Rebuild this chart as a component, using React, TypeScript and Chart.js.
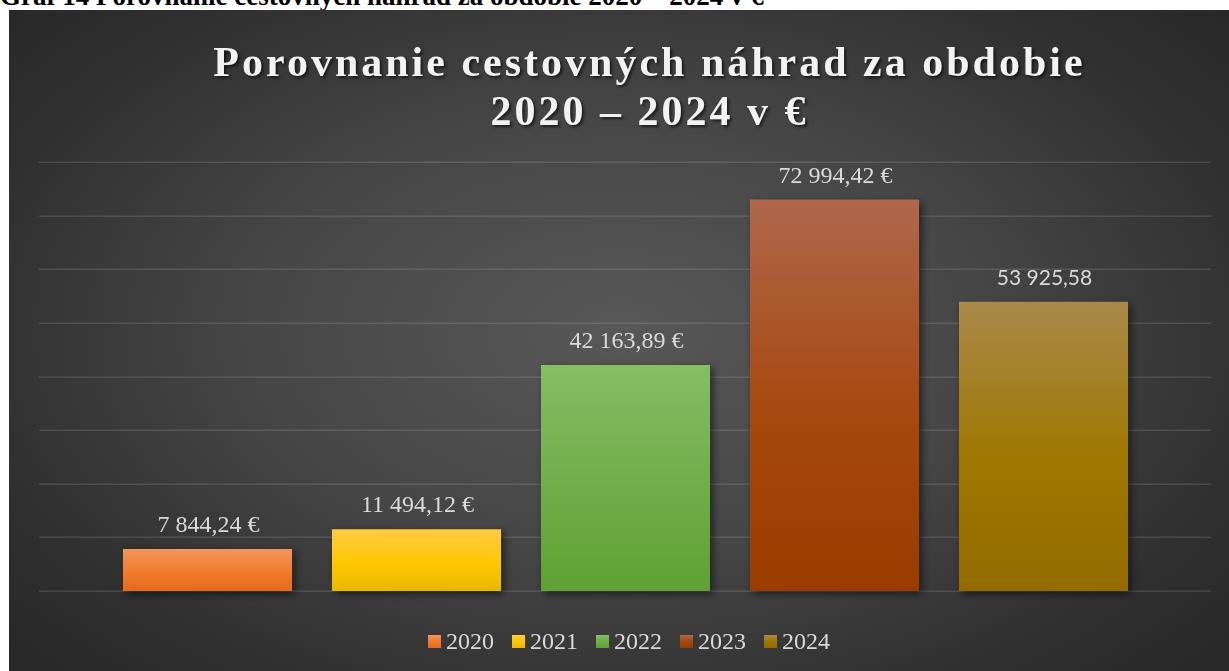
import React, { useEffect, useRef } from "react";
import { Chart, registerables } from "chart.js";

Chart.register(...registerables);

// ---- data ----
const CATEGORIES = ["2020", "2021", "2022", "2023", "2024"];
const VALUES = [7844.24, 11494.12, 42163.89, 72994.42, 53925.58];
const VALUE_LABELS = ["7 844,24 €", "11 494,12 €", "42 163,89 €", "72 994,42 €", "53 925,58"];
const Y_MIN = 0;
const Y_MAX = 80000;
const Y_STEP = 10000;
const TITLE_LINES = ["Porovnanie cestovných náhrad za obdobie", "2020 – 2024 v €"];
const CAPTION = "Graf 14 Porovnanie cestovných náhrad za obdobie 2020 – 2024 v €";

// ---- styles ----
const COLOR_TOP = ["#F2955F", "#FFCB45", "#86BD66", "#B0674C", "#A9894A"];
const COLOR_MID = ["#F07B2C", "#FFC600", "#70AD47", "#A6490F", "#A07700"];
const COLOR_BOT = ["#E56A1A", "#E8B800", "#5FA134", "#9A3C00", "#946B00"];
const LABEL_SANS = [false, false, false, false, true];

const W = 1220;
const H = 661;

export default function App() {
  const ref = useRef<HTMLCanvasElement | null>(null);

  useEffect(() => {
    const canvas = ref.current;
    if (!canvas) return;

    const bgPlugin = {
      id: "bgPlugin",
      beforeDraw(chart: any) {
        const ctx = chart.ctx;
        ctx.save();
        const cx = 610, cy = 320;
        ctx.translate(cx, cy);
        ctx.scale(1, 0.6);
        const g = ctx.createRadialGradient(0, 0, 0, 0, 0, 820);
        g.addColorStop(0, "#585858");
        g.addColorStop(0.45, "#464646");
        g.addColorStop(0.8, "#303030");
        g.addColorStop(1, "#282828");
        ctx.fillStyle = g;
        ctx.fillRect(-cx - 10, -cy / 0.6 - 10, W + 20, H / 0.6 + 20);
        ctx.restore();
      },
      beforeDatasetsDraw(chart: any) {
        const ctx = chart.ctx;
        const y = chart.scales.y;
        ctx.save();
        ctx.strokeStyle = "rgba(255,255,255,0.12)";
        ctx.lineWidth = 1.5;
        for (let v = Y_MIN; v <= Y_MAX; v += Y_STEP) {
          const py = Math.round(y.getPixelForValue(v)) + 0.25;
          ctx.beginPath();
          ctx.moveTo(30, py);
          ctx.lineTo(1202, py);
          ctx.stroke();
        }
        ctx.restore();
        ctx.save();
        ctx.shadowColor = "rgba(0,0,0,0.55)";
        ctx.shadowBlur = 8;
        ctx.shadowOffsetX = 3;
        ctx.shadowOffsetY = 3;
      },
      afterDatasetsDraw(chart: any) {
        const ctx = chart.ctx;
        ctx.restore();
        const meta = chart.getDatasetMeta(0);
        ctx.save();
        ctx.fillStyle = "#d9d9d9";
        ctx.textAlign = "center";
        ctx.textBaseline = "alphabetic";
        meta.data.forEach((bar: any, i: number) => {
          ctx.font = LABEL_SANS[i] ? '21px Lato' : '24px "Liberation Serif"';
          ctx.fillText(VALUE_LABELS[i], bar.x + 1, bar.y - 17);
        });
        ctx.restore();

        // title
        ctx.save();
        ctx.font = 'bold 42px "Liberation Serif"';
        (ctx as any).letterSpacing = "3px";
        ctx.fillStyle = "#f2f2f2";
        ctx.textAlign = "center";
        ctx.textBaseline = "alphabetic";
        ctx.shadowColor = "rgba(0,0,0,0.6)";
        ctx.shadowBlur = 3;
        ctx.shadowOffsetX = 2;
        ctx.shadowOffsetY = 2;
        ctx.fillText(TITLE_LINES[0], 640.5, 66);
        ctx.fillText(TITLE_LINES[1], 640.5, 115);
        ctx.restore();

        // legend
        ctx.save();
        ctx.font = '24px "Liberation Serif"';
        ctx.textAlign = "left";
        ctx.textBaseline = "alphabetic";
        const box = 13, gapBT = 5, gapItem = 18;
        const widths = CATEGORIES.map((c) => box + gapBT + ctx.measureText(c).width);
        const total = widths.reduce((a, b) => a + b, 0) + gapItem * (CATEGORIES.length - 1);
        let x = 620 - total / 2;
        CATEGORIES.forEach((c, i) => {
          const g = ctx.createLinearGradient(0, 625, 0, 638);
          g.addColorStop(0, COLOR_TOP[i]);
          g.addColorStop(0.5, COLOR_MID[i]);
          g.addColorStop(1, COLOR_BOT[i]);
          ctx.fillStyle = g;
          ctx.fillRect(x, 625, box, box);
          ctx.fillStyle = "#d9d9d9";
          ctx.fillText(c, x + box + gapBT, 639);
          x += widths[i] + gapItem;
        });
        ctx.restore();
      },
    };

    const chart = new Chart(canvas, {
      type: "bar",
      data: {
        labels: CATEGORIES,
        datasets: [
          {
            label: "Cestovné náhrady",
            data: VALUES,
            clip: false as any,
            categoryPercentage: 1,
            barPercentage: 0.809,
            borderWidth: 0,
            backgroundColor: (c: any) => {
              const chart = c.chart;
              if (!chart.chartArea || c.type !== "data") return COLOR_MID[c.dataIndex ?? 0];
              const ys = chart.scales.y;
              const top = ys.getPixelForValue(c.raw);
              const bot = ys.getPixelForValue(0);
              const g = chart.ctx.createLinearGradient(0, top, 0, bot);
              g.addColorStop(0, COLOR_TOP[c.dataIndex]);
              g.addColorStop(0.55, COLOR_MID[c.dataIndex]);
              g.addColorStop(1, COLOR_BOT[c.dataIndex]);
              return g;
            },
          },
        ],
      },
      options: {
        responsive: false,
        animation: false,
        events: [],
        layout: { padding: { left: 94, right: 81, top: 152, bottom: 80 } },
        scales: {
          x: { display: false, offset: true, grid: { display: false } },
          y: { display: false, min: Y_MIN, max: Y_MAX, ticks: { stepSize: Y_STEP } },
        },
        plugins: {
          legend: { display: false },
          title: { display: false },
          tooltip: { enabled: false },
        },
      },
      plugins: [bgPlugin],
    });

    return () => chart.destroy();
  }, []);

  return (
    <div
      style={{
        position: "absolute",
        left: 0,
        top: 0,
        width: 1229,
        height: 671,
        overflow: "hidden",
        background: "#ffffff",
      }}
    >
      <div
        style={{
          position: "absolute",
          left: 0,
          top: -17,
          font: 'bold 27px "Liberation Serif"',
          lineHeight: "27px",
          whiteSpace: "nowrap",
          color: "#000",
        }}
      >
        {CAPTION}
      </div>
      <canvas
        ref={ref}
        width={W}
        height={H}
        style={{ position: "absolute", left: 9, top: 10, width: W, height: H }}
      />
    </div>
  );
}
